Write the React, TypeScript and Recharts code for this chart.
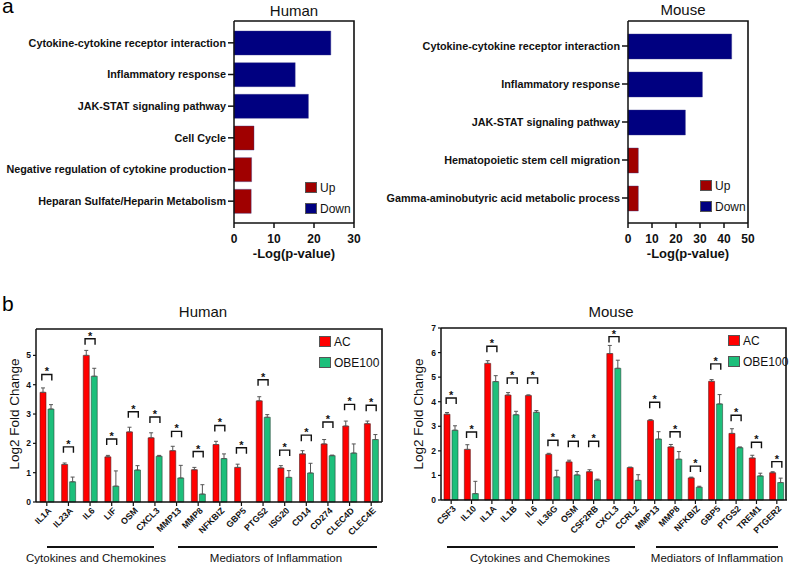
import React from 'react';
import { BarChart, ComposedChart, Bar, Cell, Line, ErrorBar, XAxis, YAxis, Label } from 'recharts';

const FONT = '"Liberation Sans", Arial, Helvetica, sans-serif';
const UP_COLOR = '#a00000';
const DOWN_COLOR = '#000080';
const AC_COLOR = '#ff0000';
const OBE_COLOR = '#1dbf7b';

// panel a: pathway enrichment, -log(p)
const humanTerms = [
  'Cytokine-cytokine receptor interaction',
  'Inflammatory response',
  'JAK-STAT signaling pathway',
  'Cell Cycle',
  'Negative regulation of cytokine production',
  'Heparan Sulfate/Heparin Metabolism',
];
const humanLogP = [24.2, 15.3, 18.6, 5.0, 4.4, 4.3];
const humanDir = ['Down', 'Down', 'Down', 'Up', 'Up', 'Up'];

const mouseTerms = [
  'Cytokine-cytokine receptor interaction',
  'Inflammatory response',
  'JAK-STAT signaling pathway',
  'Hematopoietic stem cell migration',
  'Gamma-aminobutyric acid metabolic process',
];
const mouseLogP = [43.2, 31.0, 23.9, 4.3, 4.3];
const mouseDir = ['Down', 'Down', 'Down', 'Up', 'Up'];

const humanPTicks = [0, 10, 20, 30];
const mousePTicks = [0, 10, 20, 30, 40, 50];
const dirLegend = ['Up', 'Down'];

// panel b: log2 fold change, AC vs OBE100
const humanGenes = ['IL1A', 'IL23A', 'IL6', 'LIF', 'OSM', 'CXCL3', 'MMP13', 'MMP8', 'NFKBIZ', 'GBP5', 'PTGS2', 'ISG20', 'CD14', 'CD274', 'CLEC4D', 'CLEC4E'];
const humanAC = [3.74, 1.28, 5.0, 1.54, 2.39, 2.19, 1.75, 1.1, 1.96, 1.18, 3.45, 1.16, 1.64, 1.98, 2.59, 2.67];
const humanACErr = [0.15, 0.05, 0.17, 0.05, 0.16, 0.17, 0.15, 0.08, 0.11, 0.11, 0.14, 0.08, 0.11, 0.15, 0.17, 0.09];
const humanOBE = [3.17, 0.69, 4.29, 0.54, 1.09, 1.56, 0.82, 0.27, 1.48, 0, 2.89, 0.84, 0.99, 1.58, 1.67, 2.13];
const humanOBEErr = [0.15, 0.16, 0.27, 0.52, 0.15, 0.03, 0.43, 0.32, 0.16, 0, 0.09, 0.23, 0.33, 0.02, 0.31, 0.17];
const humanSig = [4.35, 1.88, 5.57, 2.15, 3.08, 2.9, 2.41, 1.72, 2.61, 1.85, 4.17, 1.77, 2.28, 2.73, 3.33, 3.3];

const mouseGenes = ['CSF3', 'IL10', 'IL1A', 'IL1B', 'IL6', 'IL36G', 'OSM', 'CSF2RB', 'CXCL3', 'CCRL2', 'MMP13', 'MMP8', 'NFKBIZ', 'GBP5', 'PTGS2', 'TREM1', 'PTGER2'];
const mouseAC = [3.49, 2.06, 5.56, 4.27, 4.25, 1.86, 1.55, 1.15, 5.96, 1.32, 3.24, 2.16, 0.9, 4.83, 2.71, 1.71, 1.11];
const mouseACErr = [0.07, 0.19, 0.11, 0.1, 0.03, 0.04, 0.07, 0.08, 0.33, 0.02, 0.03, 0.1, 0.03, 0.07, 0.19, 0.11, 0.04];
const mouseOBE = [2.84, 0.26, 4.82, 3.47, 3.57, 0.94, 1.02, 0.81, 5.36, 0.8, 2.48, 1.66, 0.52, 3.91, 2.13, 0.98, 0.71];
const mouseOBEErr = [0.18, 0.5, 0.24, 0.14, 0.07, 0.27, 0.14, 0.04, 0.33, 0.23, 0.3, 0.31, 0.04, 0.38, 0.03, 0.11, 0.18];
const mouseSig = [4.15, 2.77, 6.26, 4.97, 4.97, 2.43, 2.39, 2.39, 6.65, null, 3.98, 2.78, 1.38, 5.54, 3.45, 2.35, 1.56];

const humanFcTicks = [0, 1, 2, 3, 4, 5];
const mouseFcTicks = [0, 1, 2, 3, 4, 5, 6, 7];
const groupLegend = [
  { key: 'AC', color: AC_COLOR },
  { key: 'OBE100', color: OBE_COLOR },
];
const humanGroups = ['Cytokines and Chemokines', 'Mediators of Inflammation'];
const mouseGroups = ['Cytokines and Chemokines', 'Mediators of Inflammation'];

const dirColor = (d: string) => (d === 'Up' ? UP_COLOR : DOWN_COLOR);
const dirItems = dirLegend.map((d) => ({ key: d, color: dirColor(d) }));

const frameLine = { stroke: '#111', strokeWidth: 1.5 };

function TermTick({ x, y, payload }: any) {
  return (
    <text x={x} y={y} dy="0.35em" textAnchor="end" fontSize={10.8} fontWeight="bold" fill="#111" fontFamily={FONT}>
      {payload.value}
    </text>
  );
}

function GeneTick({ x, y, payload }: any) {
  const ax = x + 3;
  const ay = y + 1;
  return (
    <text x={ax} y={ay} dy="0.35em" textAnchor="end" transform={`rotate(-45 ${ax} ${ay})`} fontSize={8.8} fontWeight="bold" fill="#111" fontFamily={FONT}>
      {payload.value}
    </text>
  );
}

function Bracket(props: any) {
  const { cx, cy, index, payload } = props;
  if (cx == null || cy == null || payload == null || payload.sig == null) return <g key={`sig-${index}`} />;
  return (
    <g key={`sig-${index}`}>
      <path d={`M${cx - 5},${cy + 6}V${cy}H${cx + 5}V${cy + 6}`} fill="none" stroke="#111" strokeWidth={1.4} />
      <text x={cx} y={cy + 1} textAnchor="middle" fontSize={11} fontWeight="bold" fill="#111" fontFamily={FONT}>*</text>
    </g>
  );
}

function KeyList({ items, left, top }: { items: { key: string; color: string }[]; left: number; top: number }) {
  return (
    <div style={{ position: 'absolute', left, top, fontFamily: FONT, zIndex: 6 }}>
      {items.map((it) => (
        <div key={it.key} style={{ display: 'flex', alignItems: 'center', height: 21 }}>
          <span style={{ display: 'inline-block', width: 10, height: 9, background: it.color, border: '0.5px solid #555', marginRight: 3 }} />
          <span style={{ fontSize: 12, color: '#111' }}>{it.key}</span>
        </div>
      ))}
    </div>
  );
}

function PathwayChart({ terms, values, dirs, ticks, width, yWidth, barSize }: any) {
  const data = terms.map((t: string, i: number) => ({ term: t, value: values[i], dir: dirs[i] }));
  const max = ticks[ticks.length - 1];
  return (
    <BarChart width={width} height={270} data={data} layout="vertical" margin={{ top: 21, right: 16, left: 0, bottom: 19 }}>
      <XAxis type="number" domain={[0, max]} ticks={ticks} height={28} tickSize={5} tickMargin={6}
        tick={{ fontSize: 12, fontWeight: 'bold', fill: '#111', fontFamily: FONT }}
        axisLine={frameLine} tickLine={frameLine}>
        <Label value="-Log(p-value)" position="bottom" offset={-2} style={{ fontSize: 13, fontWeight: 'bold', fill: '#111', fontFamily: FONT }} />
      </XAxis>
      <YAxis type="category" dataKey="term" width={yWidth} tickSize={6} tickMargin={2} padding={{ top: 6, bottom: 6 }}
        tick={(p: any) => <TermTick {...p} />} interval={0} axisLine={frameLine} tickLine={frameLine} />
      <Bar dataKey="value" barSize={barSize} isAnimationActive={false} stroke="#3a3a8a" strokeWidth={0.4}>
        {data.map((d: any, i: number) => (
          <Cell key={i} fill={dirColor(d.dir)} />
        ))}
      </Bar>
    </BarChart>
  );
}

function FoldChart({ genes, ac, acErr, obe, obeErr, sig, ticks, max, width, yWidth, margin }: any) {
  const data = genes.map((g: string, i: number) => ({
    gene: g,
    AC: ac[i],
    acErr: [0, acErr[i]],
    OBE100: obe[i],
    obeErr: [0, obeErr[i]],
    sig: sig[i],
  }));
  return (
    <ComposedChart width={width} height={267} data={data} margin={margin} barGap={2}>
      <XAxis dataKey="gene" height={45} interval={0} tickSize={4} tickMargin={2} tick={(p: any) => <GeneTick {...p} />}
        axisLine={frameLine} tickLine={{ stroke: '#111', strokeWidth: 1.2 }} />
      <YAxis type="number" domain={[0, max]} ticks={ticks} width={yWidth} tickSize={3} tickMargin={2} interval={0}
        tick={{ fontSize: 8.5, fontWeight: 'bold', fill: '#111', fontFamily: FONT }}
        axisLine={frameLine} tickLine={{ stroke: '#111', strokeWidth: 1.2 }} />
      <Bar dataKey="AC" fill={AC_COLOR} barSize={6} stroke="#5a1a1a" strokeWidth={0.6} isAnimationActive={false}>
        <ErrorBar dataKey="acErr" width={2} stroke="#555" strokeWidth={1} direction="y" />
      </Bar>
      <Bar dataKey="OBE100" fill={OBE_COLOR} barSize={6} stroke="#2d4a3c" strokeWidth={0.6} isAnimationActive={false}>
        <ErrorBar dataKey="obeErr" width={2} stroke="#555" strokeWidth={1} direction="y" />
      </Bar>
      <Line dataKey="sig" stroke="none" isAnimationActive={false} dot={(p: any) => <Bracket {...p} />} activeDot={false} legendType="none" />
    </ComposedChart>
  );
}

const abs = (left: number, top: number): React.CSSProperties => ({ position: 'absolute', left, top });

function Centered({ x, y, size, bold, children }: any) {
  return (
    <div style={{ position: 'absolute', left: x, top: y, transform: 'translate(-50%, -50%)', whiteSpace: 'nowrap', fontSize: size, lineHeight: 1.15, fontWeight: bold ? 'bold' : 'normal', color: '#111' }}>
      {children}
    </div>
  );
}

function YTitle({ x, y }: { x: number; y: number }) {
  return (
    <div style={{ position: 'absolute', left: x, top: y, transform: 'translate(-50%, -50%) rotate(-90deg)', whiteSpace: 'nowrap', fontSize: 13.5, color: '#111' }}>
      Log2 Fold Change
    </div>
  );
}

function GroupRule({ x1, x2, y }: { x1: number; x2: number; y: number }) {
  return <div style={{ position: 'absolute', left: x1, top: y - 1.25, width: x2 - x1, height: 2.5, background: '#111' }} />;
}

// top and right edges of each plot box, drawn as one svg overlay above the charts
const frames = [
  { x1: 234, y1: 21, x2: 354, y2: 223 },
  { x1: 628, y1: 21, x2: 748, y2: 223 },
  { x1: 36, y1: 329, x2: 382, y2: 502 },
  { x1: 441, y1: 328, x2: 786, y2: 500 },
];

function FrameLayer() {
  return (
    <svg width={789} height={567} style={{ position: 'absolute', left: 0, top: 0, zIndex: 5, pointerEvents: 'none' }}>
      {frames.map((f, i) => (
        <path key={i} d={`M${f.x1},${f.y1}H${f.x2}V${f.y2}`} fill="none" stroke="#111" strokeWidth={1.6} />
      ))}
    </svg>
  );
}

export default function App() {
  return (
    <div style={{ position: 'absolute', left: 0, top: 0, width: 789, height: 567, background: '#fff', fontFamily: FONT, overflow: 'hidden' }}>
      <div style={{ ...abs(2, 1), fontSize: 21, lineHeight: 0.5 }}>a</div>
      <div style={{ ...abs(2, 299), fontSize: 21, lineHeight: 0.5 }}>b</div>

      <Centered x={294} y={11} size={15}>Human</Centered>
      <Centered x={683} y={10} size={15}>Mouse</Centered>

      <div style={abs(0, 0)}>
        <PathwayChart terms={humanTerms} values={humanLogP} dirs={humanDir} ticks={humanPTicks}
          width={370} yWidth={234} barSize={24} />
      </div>
      <div style={abs(374, 0)}>
        <PathwayChart terms={mouseTerms} values={mouseLogP} dirs={mouseDir} ticks={mousePTicks}
          width={390} yWidth={254} barSize={25} />
      </div>
      <KeyList items={dirItems} left={305} top={177} />
      <KeyList items={dirItems} left={700} top={175} />

      <Centered x={203} y={312} size={15}>Human</Centered>
      <Centered x={611} y={312} size={15}>Mouse</Centered>
      <YTitle x={14} y={414} />
      <YTitle x={418} y={414} />

      <div style={abs(0, 300)}>
        <FoldChart genes={humanGenes} ac={humanAC} acErr={humanACErr} obe={humanOBE} obeErr={humanOBEErr} sig={humanSig}
          ticks={humanFcTicks} max={5.9} width={400} yWidth={36}
          margin={{ top: 29, right: 18, left: 0, bottom: 20 }} />
      </div>
      <div style={abs(400, 300)}>
        <FoldChart genes={mouseGenes} ac={mouseAC} acErr={mouseACErr} obe={mouseOBE} obeErr={mouseOBEErr} sig={mouseSig}
          ticks={mouseFcTicks} max={7} width={389} yWidth={41}
          margin={{ top: 28, right: 2, left: 0, bottom: 22 }} />
      </div>
      <KeyList items={groupLegend} left={319} top={331} />
      <KeyList items={groupLegend} left={728} top={330} />

      <FrameLayer />

      <GroupRule x1={47} x2={154} y={547} />
      <Centered x={96} y={559} size={11.5}>{humanGroups[0]}</Centered>
      <GroupRule x1={178} x2={377} y={547} />
      <Centered x={276} y={559} size={11.5}>{humanGroups[1]}</Centered>

      <GroupRule x1={447} x2={635} y={547} />
      <Centered x={540} y={559} size={11.5}>{mouseGroups[0]}</Centered>
      <GroupRule x1={656} x2={778} y={547} />
      <Centered x={717} y={559} size={11.5}>{mouseGroups[1]}</Centered>
    </div>
  );
}
